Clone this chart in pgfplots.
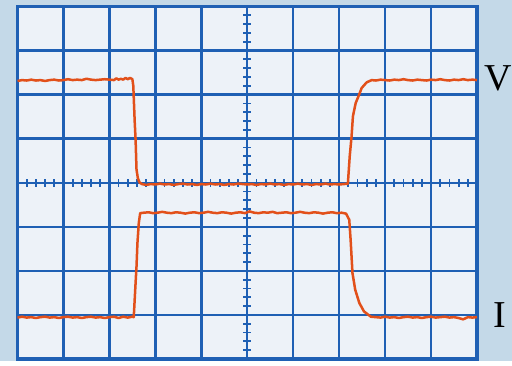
\documentclass[border=0pt]{standalone}
\usepackage{pgfplots}
\pgfplotsset{compat=1.18}
\usepackage{fontspec}
\setmainfont{Liberation Serif}
\definecolor{outbg}{HTML}{C4D9E8}
\definecolor{scrbg}{HTML}{EDF2F8}
\definecolor{gridblue}{HTML}{1F60B4}
\definecolor{trace}{HTML}{E2501A}
\begin{document}
\begin{tikzpicture}[x=1pt,y=1pt]
\fill[outbg] (0,0) rectangle (512,361);
\begin{axis}[
  at={(17.5pt,2pt)}, anchor=south west,
  scale only axis, width=459.5pt, height=352.5pt,
  xmin=0, xmax=10, ymin=-4, ymax=4,
  xtick={0,...,10}, ytick={-4,...,4},
  xticklabels={}, yticklabels={},
  major tick length=0pt,
  grid=major,
  major grid style={gridblue, line width=2.4pt},
  axis line style={gridblue, line width=3.2pt},
  axis background/.style={fill=scrbg},
]
\pgfplotsinvokeforeach{0.2,0.4,...,9.8}{
  \draw[gridblue, line width=1.8pt] (axis cs:#1,-0.09) -- (axis cs:#1,0.09);
}
\pgfplotsinvokeforeach{-3.8,-3.6,...,3.8}{
  \draw[gridblue, line width=1.8pt] (axis cs:4.915,#1) -- (axis cs:5.085,#1);
}
% V trace
\addplot[trace, line width=2.5pt, line join=round] coordinates {
(0,2.31) (0.1,2.33) (0.2,2.32) (0.3,2.34) (0.4,2.32) (0.5,2.33) (0.6,2.31)
(0.7,2.33) (0.8,2.34) (0.9,2.32) (1.0,2.33) (1.1,2.35) (1.2,2.33) (1.3,2.34)
(1.4,2.33) (1.5,2.36) (1.6,2.34) (1.7,2.33) (1.8,2.34) (1.9,2.35) (2.0,2.34)
(2.1,2.33) (2.15,2.37) (2.2,2.34) (2.25,2.36) (2.3,2.34) (2.35,2.38) (2.4,2.35)
(2.45,2.38) (2.5,2.35) (2.52,2.2) (2.55,1.4) (2.57,0.98) (2.59,0.30) (2.62,0.10)
(2.66,0.0) (2.71,-0.03) (2.8,-0.05) (2.9,-0.03) (3.0,-0.04) (3.1,-0.02) (3.2,-0.04)
(3.3,-0.03) (3.4,-0.05) (3.5,-0.03) (3.6,-0.02) (3.7,-0.04) (3.8,-0.03) (3.9,-0.05)
(4.0,-0.03) (4.1,-0.04) (4.2,-0.02) (4.3,-0.04) (4.4,-0.03) (4.5,-0.05) (4.6,-0.03)
(4.7,-0.04) (4.8,-0.02) (4.9,-0.03) (5.0,-0.04) (5.1,-0.03) (5.2,-0.05) (5.3,-0.03)
(5.4,-0.04) (5.5,-0.02) (5.6,-0.04) (5.7,-0.03) (5.8,-0.05) (5.9,-0.03) (6.0,-0.04)
(6.1,-0.02) (6.2,-0.04) (6.3,-0.03) (6.4,-0.05) (6.5,-0.03) (6.6,-0.04) (6.7,-0.02)
(6.8,-0.04) (6.9,-0.03) (7.0,-0.04) (7.1,-0.03) (7.19,-0.02) (7.23,0.60) (7.27,1.05)
(7.30,1.51) (7.36,1.81) (7.42,1.96) (7.49,2.15) (7.60,2.28) (7.71,2.33) (7.8,2.32)
(7.9,2.34) (8.0,2.33) (8.1,2.32) (8.2,2.34) (8.3,2.33) (8.4,2.35) (8.5,2.33)
(8.6,2.32) (8.7,2.34) (8.8,2.33) (8.9,2.32) (9.0,2.34) (9.1,2.33) (9.2,2.35)
(9.3,2.33) (9.4,2.32) (9.5,2.34) (9.6,2.33) (9.7,2.35) (9.8,2.33) (9.9,2.34) (10,2.33)
};
% I trace
\addplot[trace, line width=2.5pt, line join=round] coordinates {
(0,-3.06) (0.1,-3.04) (0.2,-3.06) (0.3,-3.05) (0.4,-3.07) (0.5,-3.05) (0.6,-3.04)
(0.7,-3.06) (0.8,-3.05) (0.9,-3.07) (1.0,-3.05) (1.1,-3.04) (1.2,-3.06) (1.3,-3.05)
(1.4,-3.07) (1.5,-3.05) (1.6,-3.04) (1.7,-3.06) (1.8,-3.05) (1.9,-3.07) (2.0,-3.05)
(2.1,-3.04) (2.2,-3.07) (2.3,-3.04) (2.4,-3.06) (2.5,-3.04) (2.53,-3.05) (2.55,-2.66)
(2.57,-2.27) (2.59,-1.90) (2.61,-1.37) (2.64,-0.91) (2.67,-0.69) (2.75,-0.68)
(2.85,-0.67) (2.95,-0.69) (3.05,-0.68) (3.15,-0.66) (3.25,-0.68) (3.35,-0.69)
(3.45,-0.67) (3.55,-0.68) (3.65,-0.70) (3.75,-0.68) (3.85,-0.67) (3.95,-0.69)
(4.05,-0.68) (4.15,-0.66) (4.25,-0.68) (4.35,-0.69) (4.45,-0.67) (4.55,-0.68)
(4.65,-0.70) (4.75,-0.68) (4.85,-0.67) (4.95,-0.69) (5.05,-0.65) (5.15,-0.68)
(5.25,-0.69) (5.35,-0.67) (5.45,-0.68) (5.55,-0.66) (5.65,-0.69) (5.75,-0.68)
(5.85,-0.67) (5.95,-0.69) (6.05,-0.68) (6.15,-0.66) (6.25,-0.68) (6.35,-0.69)
(6.45,-0.67) (6.55,-0.68) (6.65,-0.70) (6.75,-0.68) (6.85,-0.67) (6.95,-0.69)
(7.05,-0.68) (7.15,-0.70) (7.22,-0.84) (7.25,-1.30) (7.29,-2.05) (7.35,-2.43)
(7.44,-2.73) (7.54,-2.92) (7.69,-3.04) (7.8,-3.05) (7.9,-3.06) (8.0,-3.04)
(8.1,-3.06) (8.2,-3.05) (8.3,-3.07) (8.4,-3.05) (8.5,-3.04) (8.6,-3.06) (8.7,-3.05)
(8.8,-3.07) (8.9,-3.05) (9.0,-3.04) (9.1,-3.06) (9.2,-3.05) (9.3,-3.04) (9.4,-3.06)
(9.5,-3.05) (9.6,-3.07) (9.7,-3.10) (9.8,-3.05) (9.9,-3.06) (10,-3.05)
};
\end{axis}
\node[inner sep=0pt, font=\fontsize{38}{40}\selectfont] at (498,282.3) {V};
\node[inner sep=0pt, font=\fontsize{38}{40}\selectfont] at (500,45.5) {I};
\end{tikzpicture}
\end{document}
